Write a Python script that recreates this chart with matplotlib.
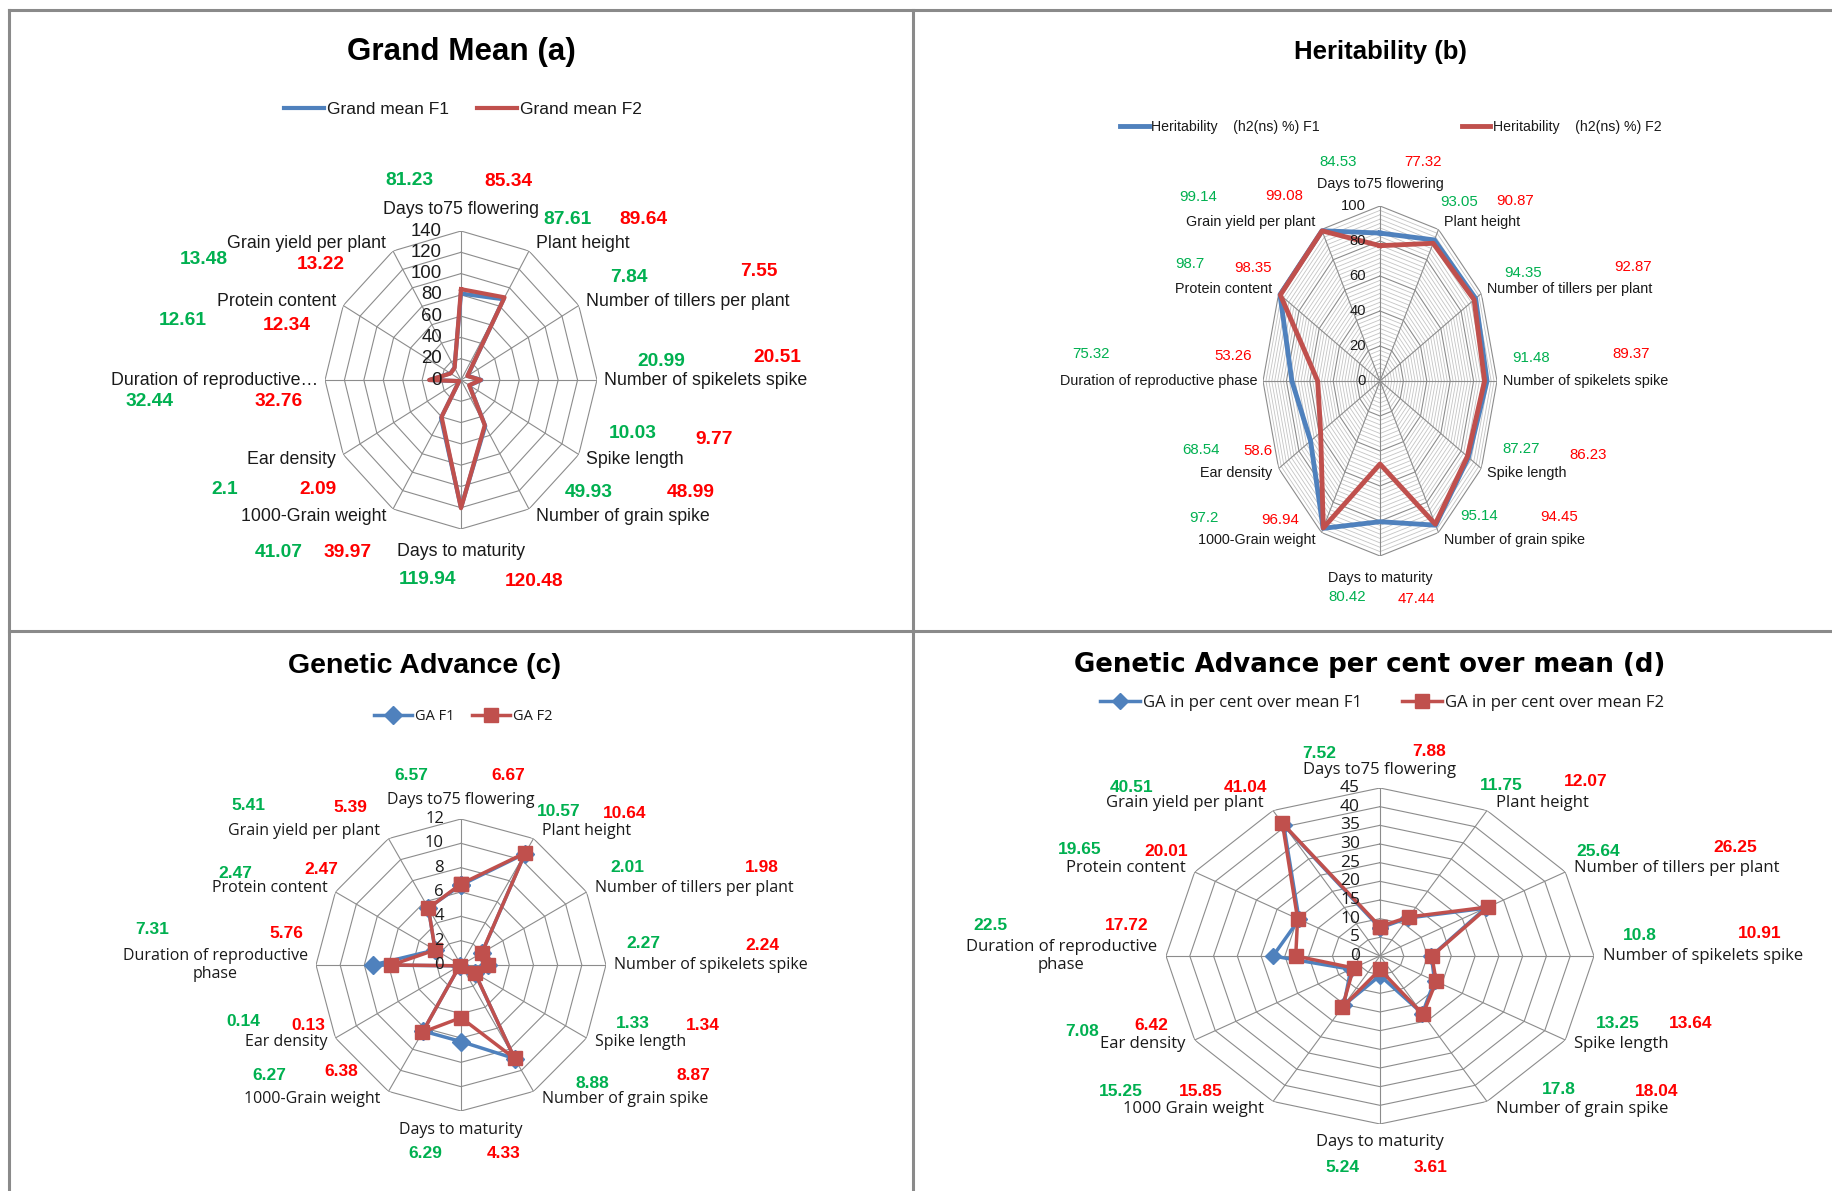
import numpy as np
import matplotlib
matplotlib.use("Agg")
import matplotlib.pyplot as plt
from matplotlib.lines import Line2D

W, H, DPI = 1833, 1191, 100

# ---- data -------------------------------------------------------------
traits = ["Days to75 flowering", "Plant height", "Number of tillers per plant",
          "Number of spikelets spike", "Spike length", "Number of grain spike",
          "Days to maturity", "1000-Grain weight", "Ear density",
          "Duration of reproductive phase", "Protein content", "Grain yield per plant"]
labels_a = traits[:9] + ["Duration of reproductive\u2026"] + traits[10:]
labels_b = list(traits)
labels_c = traits[:9] + ["Duration of reproductive\nphase"] + traits[10:]
labels_d = traits[:7] + ["1000 Grain weight"] + labels_c[8:]

grand_f1 = [81.23, 87.61, 7.84, 20.99, 10.03, 49.93, 119.94, 41.07, 2.1, 32.44, 12.61, 13.48]
grand_f2 = [85.34, 89.64, 7.55, 20.51, 9.77, 48.99, 120.48, 39.97, 2.09, 32.76, 12.34, 13.22]
herit_f1 = [84.53, 93.05, 94.35, 91.48, 87.27, 95.14, 80.42, 97.2, 68.54, 75.32, 98.7, 99.14]
herit_f2 = [77.32, 90.87, 92.87, 89.37, 86.23, 94.45, 47.44, 96.94, 58.6, 53.26, 98.35, 99.08]
ga_f1 = [6.57, 10.57, 2.01, 2.27, 1.33, 8.88, 6.29, 6.27, 0.14, 7.31, 2.47, 5.41]
ga_f2 = [6.67, 10.64, 1.98, 2.24, 1.34, 8.87, 4.33, 6.38, 0.13, 5.76, 2.47, 5.39]
gapm_f1 = [7.52, 11.75, 25.64, 10.8, 13.25, 17.8, 5.24, 15.25, 7.08, 22.5, 19.65, 40.51]
gapm_f2 = [7.88, 12.07, 26.25, 10.91, 13.64, 18.04, 3.61, 15.85, 6.42, 17.72, 20.01, 41.04]

ticks_a = list(range(0, 141, 20))
ticks_b = list(range(0, 101, 20))
ticks_c = list(range(0, 13, 2))
ticks_d = list(range(0, 46, 5))

legend_a = ["Grand mean F1", "Grand mean F2"]
legend_b = ["Heritability    (h2(ns) %) F1", "Heritability    (h2(ns) %) F2"]
legend_c = ["GA F1", "GA F2"]
legend_d = ["GA in per cent over mean F1", "GA in per cent over mean F2"]

titles = ["Grand Mean (a)", "Heritability (b)", "Genetic Advance (c)",
          "Genetic Advance per cent over mean (d)"]

# where the typed value boxes sit (pixel centres), F1 / F2, trait order
pos_a_f1 = [(409, 180), (568, 219), (629, 277), (661, 362), (633, 433), (589, 492),
            (428, 579), (279, 552), (225, 490), (150, 401), (183, 320), (204, 259)]
pos_a_f2 = [(508, 182), (643, 219), (759, 272), (777, 358), (714, 440), (691, 492),
            (534, 581), (348, 552), (318, 490), (279, 401), (287, 325), (321, 264)]
pos_b_f1 = [(1338, 162), (1459, 202), (1523, 273), (1531, 358), (1521, 449), (1479, 516),
            (1347, 597), (1204, 518), (1201, 450), (1091, 354), (1190, 264), (1198, 197)]
pos_b_f2 = [(1423, 162), (1515, 201), (1633, 267), (1631, 354), (1588, 455), (1559, 517),
            (1416, 599), (1280, 520), (1258, 451), (1233, 356), (1253, 268), (1284, 196)]
pos_c_f1 = [(411, 775), (559, 812), (627, 867), (643, 943), (633, 1024), (592, 1084),
            (425, 1154), (269, 1075), (243, 1022), (152, 929), (235, 873), (248, 806)]
pos_c_f2 = [(508, 776), (625, 813), (762, 867), (762, 946), (703, 1026), (693, 1076),
            (504, 1154), (341, 1072), (308, 1025), (286, 934), (321, 869), (350, 807)]
pos_d_f1 = [(1319, 753), (1501, 785), (1598, 851), (1640, 935), (1618, 1024), (1559, 1090),
            (1342, 1167), (1121, 1092), (1082, 1031), (990, 926), (1080, 849), (1132, 787)]
pos_d_f2 = [(1429, 752), (1586, 782), (1735, 847), (1760, 933), (1691, 1023), (1657, 1092),
            (1431, 1168), (1201, 1092), (1151, 1025), (1127, 926), (1166, 851), (1246, 787)]

BLUE, RED = "#4F81BD", "#C0504D"
VGREEN, VRED = "#00B050", "#FF0000"
GRID = "#8c8c8c"
WIDE = ["Open Sans", "DejaVu Sans"]
ARIAL = ["Liberation Sans", "DejaVu Sans"]

PX = 72.0 / DPI  # points per pixel


def fx(x):
    return x / W


def fy(y):
    return 1 - y / H


def radar(fig, geo, ticks, labels, f1, f2, st):
    cx, cy, rx, ry = geo
    rmax = ticks[-1]
    ax = fig.add_axes([fx(cx - rx), fy(cy + ry), 2 * rx / W, 2 * ry / H], projection="polar")
    ax.set_aspect("auto")
    ax.set_theta_zero_location("N")
    ax.set_theta_direction(-1)
    ax.set_ylim(0, rmax)
    ax.set_xticks([])
    ax.set_yticks([])
    ax.grid(False)
    ax.spines["polar"].set_visible(False)
    ax.patch.set_visible(False)

    theta = np.arange(12) * 2 * np.pi / 12
    closed = np.append(theta, theta[0])

    if st.get("minor"):
        for r in np.arange(st["minor"], rmax, st["minor"]):
            if r % ticks[1]:
                ax.plot(closed, [r] * 13, color="#c4c4c4", lw=0.6, zorder=1)
    for r in ticks[1:]:
        ax.plot(closed, [r] * 13, color=GRID, lw=st["glw"], zorder=1.5)
    for t in theta:
        ax.plot([t, t], [0, rmax], color=GRID, lw=st["glw"], zorder=1.5)

    for vals, col, mk, ms in ((f1, BLUE, st.get("m1"), st.get("ms1", 0)),
                              (f2, RED, st.get("m2"), st.get("ms2", 0))):
        ax.plot(closed, np.append(vals, vals[0]), color=col, lw=st["lw"],
                marker=mk, markersize=ms, clip_on=False, zorder=3)

    # category labels
    for t, lab in zip(theta, labels):
        s, c = np.sin(t), np.cos(t)
        if abs(s) < 0.1:
            ha, dx, dy = "center", 0, st["tb"] * np.sign(c)
        else:
            ha = "left" if s > 0 else "right"
            dx, dy = st["side"] * np.sign(s), 9 * c
        ax.annotate(lab, xy=(t, rmax), xytext=(dx * PX, dy * PX), textcoords="offset points",
                    ha=ha, va="center", multialignment="center", fontsize=st["lfs"],
                    family=st["lfam"], color="#1a1a1a", annotation_clip=False)
    # radial tick labels along the top spoke
    for r in ticks:
        ax.annotate(str(r), xy=(0, r), xytext=(-st["tk"] * PX, 0), textcoords="offset points",
                    ha="right", va="center", fontsize=st["tfs"], family=st["lfam"],
                    color="#1a1a1a", annotation_clip=False)
    return ax


def values(fig, vals, pos, color, fs, fam, weight):
    for v, (x, y) in zip(vals, pos):
        fig.text(fx(x), fy(y), f"{v:g}", ha="center", va="center", color=color,
                 fontsize=fs, family=fam, fontweight=weight)


fig = plt.figure(figsize=(W / DPI, H / DPI), dpi=DPI)

panels = [
    dict(geo=(461, 380, 136, 149), ticks=ticks_a, labels=labels_a, f1=grand_f1, f2=grand_f2,
         st=dict(lw=3.0, glw=0.8, lfs=12.8, tfs=13.4, lfam=ARIAL, tb=22, side=7, tk=19),
         title=(461, 52, 22.6, ARIAL), leg=(463, 109, legend_a, 12.5, ARIAL, 2.3, 1.6),
         val=(pos_a_f1, pos_a_f2, 13.8, ARIAL, "bold")),
    dict(geo=(1380, 381, 117, 175), ticks=ticks_b, labels=labels_b, f1=herit_f1, f2=herit_f2,
         st=dict(lw=3.5, glw=0.8, lfs=10.4, tfs=10.6, lfam=ARIAL, tb=22, side=6, tk=14,
                 minor=2.5),
         title=(1380, 52, 18.5, ARIAL), leg=(1391, 127, legend_b, 10.2, ARIAL, 2.0, 10.0),
         val=(pos_b_f1, pos_b_f2, 10.8, ARIAL, "normal")),
    dict(geo=(461, 965, 145, 146), ticks=ticks_c, labels=labels_c, f1=ga_f1, f2=ga_f2,
         st=dict(lw=2.5, glw=0.8, lfs=11.5, tfs=12, lfam=WIDE, tb=19, side=8, tk=17,
                 m1="D", ms1=9, m2="s", ms2=10),
         title=(425, 666, 20.5, ARIAL), leg=(463, 717, legend_c, 10.5, WIDE, 2.6, 1.2),
         val=(pos_c_f1, pos_c_f2, 12.5, ARIAL, "bold")),
    dict(geo=(1380, 956, 214, 168), ticks=ticks_d, labels=labels_d, f1=gapm_f1, f2=gapm_f2,
         st=dict(lw=2.5, glw=0.8, lfs=12, tfs=12.5, lfam=WIDE, tb=18, side=9, tk=20,
                 m1="D", ms1=8, m2="s", ms2=9.5),
         title=(1370, 665, 18.7, ["DejaVu Sans"]), leg=(1382, 703, legend_d, 12, WIDE, 2.4, 2.4),
         val=(pos_d_f1, pos_d_f2, 12.5, ARIAL, "bold")),
]

for p, title in zip(panels, titles):
    ax = radar(fig, p["geo"], p["ticks"], p["labels"], p["f1"], p["f2"], p["st"])
    tx, ty, tfs, tfam = p["title"]
    fig.text(fx(tx), fy(ty), title, ha="center", va="center", fontsize=tfs,
             family=tfam, fontweight="bold", color="black")
    lx, ly, names, lfs, lfam, hl, cs = p["leg"]
    leg = ax.legend(ax.lines[-2:], names, loc="center", bbox_to_anchor=(fx(lx), fy(ly)),
                    bbox_transform=fig.transFigure, ncol=2, frameon=False, borderpad=0,
                    handlelength=hl, handletextpad=0.2, columnspacing=cs,
                    prop=dict(family=lfam, size=lfs))
    for txt in leg.get_texts():
        txt.set_color("#1a1a1a")
    pf1, pf2, vfs, vfam, vw = p["val"]
    values(fig, p["f1"], pf1, VGREEN, vfs, vfam, vw)
    values(fig, p["f2"], pf2, VRED, vfs, vfam, vw)

# panel frames
for xs, ys in (([9, W], [10, 10]), ([9, 9], [10, H]), ([913, 913], [10, H]),
               ([9, W], [631, 631])):
    fig.add_artist(Line2D([fx(x) for x in xs], [fy(y) for y in ys],
                          transform=fig.transFigure, color="#8a8a8a", lw=2.2))

fig.savefig("out.png", dpi=DPI, facecolor="white")
